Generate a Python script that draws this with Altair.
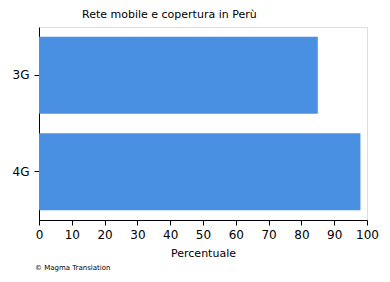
import altair as alt
import pandas as pd

categories = ["3G", "4G"]
values = [85, 98]
x_ticks = [0, 10, 20, 30, 40, 50, 60, 70, 80, 90, 100]

df = pd.DataFrame({"rete": categories, "percentuale": values})
note = pd.DataFrame({"t": ["© Magma Translation"]})

font = "DejaVu Sans"

bars = alt.Chart(df).mark_bar(color="#4a90e2").encode(
    x=alt.X("percentuale:Q",
            scale=alt.Scale(domain=[0, 100], nice=False),
            axis=alt.Axis(values=x_ticks, title="Percentuale", grid=False,
                          labelFontSize=12, titleFontSize=11, titleFontWeight="normal",
                          labelColor="black", titleColor="black", domainColor="black",
                          tickColor="black", tickSize=5, labelPadding=4, titlePadding=7,
                          labelFont=font, titleFont=font, labelFlush=False)),
    y=alt.Y("rete:N", sort=categories,
            scale=alt.Scale(paddingInner=0.2, paddingOuter=0.1),
            axis=alt.Axis(title=None, labelFontSize=12, labelColor="black",
                          domainColor="black", tickColor="black", tickSize=5,
                          labelPadding=5, labelFont=font)),
)

copy = alt.Chart(note).mark_text(fontSize=7, font=font, align="left", baseline="middle",
                                 color="black").encode(
    text="t:N", x=alt.value(-4), y=alt.value(241)
)

chart = alt.layer(bars, copy).properties(
    width=328, height=193,
    padding={"left": 39, "top": 27, "right": 23, "bottom": 62},
    autosize=alt.AutoSizeParams(type="none"),
    title=alt.TitleParams("Rete mobile e copertura in Perù", fontSize=11, font=font,
                          fontWeight="normal", anchor="start", frame="group", dx=43,
                          offset=7, color="black"),
).configure_view(stroke="black", strokeWidth=1).configure(background="white")

chart.save("out.html", embed_options={"renderer": "svg", "actions": False})
